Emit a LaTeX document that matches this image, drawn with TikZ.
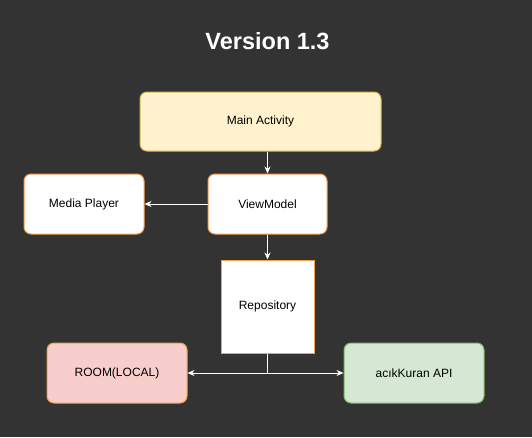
\documentclass[tikz,border=0pt]{standalone}
\usepackage{fontspec}
\setmainfont{Liberation Sans}
\usetikzlibrary{arrows.meta}
\definecolor{bg}{HTML}{333333}
\definecolor{orangeline}{HTML}{F2A04E}
\definecolor{yellowfill}{HTML}{FFF2CC}
\definecolor{yellowline}{HTML}{D6B656}
\definecolor{redfill}{HTML}{F8CECC}
\definecolor{greenfill}{HTML}{D5E8D4}
\definecolor{greenline}{HTML}{82B366}
\begin{document}
\begin{tikzpicture}[x=1pt,y=-1pt,
  box/.style={draw=orangeline,fill=white,line width=1pt,rounded corners=7pt,
    font=\fontsize{12}{14}\selectfont,text=black,inner sep=0pt},
  link/.style={draw=white,line width=1pt,-{Stealth[length=7pt,width=6pt]}}]
\fill[bg] (0,0) rectangle (532,437);
\useasboundingbox (0,0) rectangle (532,437);
\node [font=\bfseries\fontsize{23.5}{28}\selectfont,text=white] (title) at (267.5,41) {Version 1.3};
\node [box,draw=yellowline,fill=yellowfill,minimum width=241pt,minimum height=59pt] (main) at (260.5,121.5) {Main Activity};
\node [box,minimum width=120pt,minimum height=60pt] (player) at (84,204) {Media Player};
\node [box,minimum width=119pt,minimum height=60pt] (vm) at (267.5,204) {ViewModel};
\node [box,rounded corners=0pt,minimum width=93pt,minimum height=93pt] (repo) at (267.5,306.5) {Repository};
\node [box,fill=redfill,minimum width=140pt,minimum height=60pt] (room) at (117,373) {ROOM(LOCAL)};
\node [box,draw=greenline,fill=greenfill,minimum width=140pt,minimum height=60pt] (api) at (414,373) {acıkKuran API};
\draw [link] (main.south -| vm) -- (vm);
\draw [link] (vm) -- (player);
\draw [link] (vm) -- (repo);
\draw [link] (repo.south) |- (room);
\draw [link] (repo.south) |- (api);
\end{tikzpicture}
\end{document}
